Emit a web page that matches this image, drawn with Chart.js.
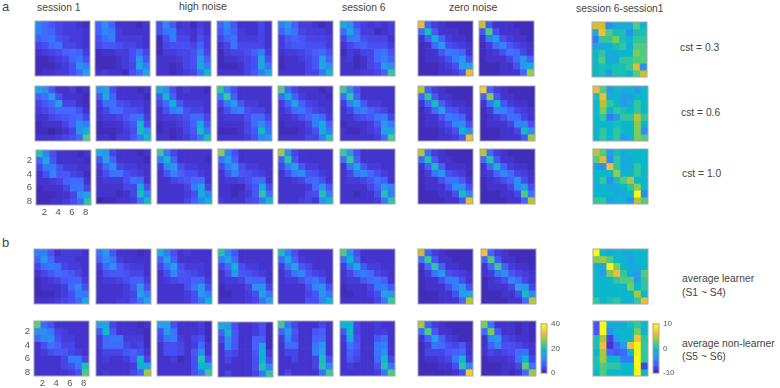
<!DOCTYPE html>
<html>
<head>
<meta charset="utf-8">
<script src="https://cdn.jsdelivr.net/npm/chart.js@4"></script>
<style>
html,body{margin:0;padding:0;background:#fff;}
#page{position:relative;width:780px;height:388px;overflow:hidden;font-family:"Liberation Sans",Arial,sans-serif;color:#444;}
#page canvas{position:absolute;filter:blur(0.3px);}
.lbl{position:absolute;white-space:nowrap;line-height:1;transform:translateY(-50%);}
</style>
</head>
<body>
<div id="page"></div>
<script>
// parula colormap
const parula = [[62,38,168],[69,55,213],[72,77,240],[69,99,253],[50,124,252],[43,145,239],[32,165,227],[8,181,208],[25,191,182],[55,200,151],[100,205,111],[157,201,67],[209,191,39],[248,186,61],[250,214,45],[246,239,32],[249,251,21]];

const gridLabels = ["1","2","3","4","5","6","7","8"];

// a: cst = 0.3
const a1_s1 = [[12,9,7,5,4,4,3,2],[11,9,8,5,4,4,4,3],[8,9,10,6,5,4,4,3],[5,6,9,10,5,5,4,3],[3,4,5,6,8,9,8,4],[2,2,3,4,5,8,10,6],[2,2,2,3,4,6,13,11],[2,3,3,4,4,6,9,15]];
const a1_s2 = [[8,13,8,3,3,3,2,3],[8,12,11,4,3,3,3,3],[6,9,11,4,4,4,4,3],[5,7,7,6,5,5,4,3],[2,3,3,4,4,6,9,5],[2,2,2,3,4,6,14,7],[2,2,2,3,4,5,16,11],[3,4,3,3,2,6,9,16]];
const a1_s3 = [[6,12,7,3,4,2,4,3],[6,10,11,4,4,3,5,3],[2,6,11,5,5,3,6,4],[2,5,6,6,6,5,8,4],[2,4,4,5,5,6,11,5],[3,3,3,4,5,6,14,8],[3,3,2,3,5,6,17,11],[3,3,2,3,4,5,10,19]];
const a1_s4 = [[8,12,7,3,3,3,5,3],[7,11,8,4,3,3,5,3],[5,8,10,4,4,4,5,3],[3,5,10,5,5,5,5,3],[2,4,5,5,6,8,11,4],[2,3,3,4,5,6,15,6],[2,2,2,3,5,6,16,10],[3,3,3,3,5,7,11,16]];
const a1_s5 = [[11,14,8,4,4,3,2,3],[8,12,10,5,4,4,4,3],[4,7,8,7,5,5,5,4],[4,6,7,7,6,6,6,4],[3,4,4,5,6,8,9,6],[2,3,3,4,5,7,15,8],[2,3,3,3,5,7,15,13],[3,3,3,3,5,5,10,19]];
const a1_s6 = [[17,13,6,4,3,4,3,4],[9,16,9,4,4,2,3,4],[5,10,11,6,5,5,5,3],[3,5,7,8,6,6,6,4],[2,4,3,5,5,9,10,6],[3,4,2,3,5,9,11,8],[3,3,2,3,5,6,14,13],[3,3,3,4,4,5,8,23]];
const a1_z1 = [[32,8,4,3,2,2,2,2],[9,20,7,3,3,3,2,2],[3,8,18,8,4,3,3,2],[2,3,9,14,6,5,4,3],[2,3,3,7,11,10,8,3],[2,3,3,4,6,11,14,6],[2,2,2,3,4,6,15,15],[2,2,2,3,3,4,7,32]];
const a1_z2 = [[30,7,3,3,3,2,2,2],[7,24,6,3,3,3,2,2],[3,11,15,6,4,3,3,2],[2,4,9,12,7,5,4,3],[2,3,4,6,10,9,5,3],[2,3,3,3,5,9,14,8],[2,2,2,3,3,6,14,16],[2,2,2,3,3,3,8,28]];
const a1_diff = [[5.2,5.2,-4,-2,-2,-2,2,-1],[-2,6.3,2,0,0,-4,0,0],[-5,1,1,3,0,-1,1,1],[-3,-2,-2,0,1,-2,2,2],[-1,1,-2,-2,-1,-1,3,2],[-1,2,-2,-2,1,1,2,2],[-1,0,-1,0,0,1,5.4,-4],[-1,0,-3,0,0,-1,2,4.8]];

// a: cst = 0.6
const a2_s1 = [[16,13,7,3,3,4,2,3],[8,10,15,6,3,3,3,2],[5,7,9,15,5,5,3,2],[4,5,7,9,9,9,6,3],[3,3,5,6,7,8,9,5],[2,3,3,3,5,8,13,11],[2,2,1,2,3,5,13,17],[3,3,3,4,5,6,9,24]];
const a2_s2 = [[13,15,6,3,3,3,2,3],[7,17,8,3,3,3,3,2],[4,9,10,6,5,4,4,3],[3,5,9,9,6,6,5,3],[3,4,4,5,7,9,10,4],[2,3,3,3,5,7,19,6],[2,2,2,3,4,6,20,14],[3,3,2,4,4,7,11,19]];
const a2_s3 = [[17,13,6,3,4,3,3,2],[7,19,8,3,3,3,3,3],[5,9,17,7,4,4,4,3],[3,6,11,13,6,5,5,3],[3,4,4,5,6,9,9,5],[2,3,3,4,5,8,17,7],[2,3,2,3,5,7,20,11],[3,3,2,3,4,6,10,20]];
const a2_s4 = [[22,12,6,3,3,3,3,3],[11,23,8,3,3,3,3,3],[5,11,14,7,4,4,3,3],[3,6,10,12,6,5,5,3],[3,4,4,4,6,9,9,5],[3,3,3,3,5,9,13,8],[2,2,2,3,5,7,19,10],[3,3,3,3,4,6,12,14]];
const a2_s5 = [[24,9,5,3,3,3,2,3],[9,18,8,4,3,3,3,2],[4,8,15,8,5,4,3,3],[3,5,9,11,7,5,4,3],[3,3,4,6,8,11,9,4],[2,3,3,3,5,11,17,8],[2,2,2,3,4,6,17,11],[3,3,3,3,5,5,11,21]];
const a2_s6 = [[23,13,6,3,3,3,3,3],[9,22,8,3,3,3,3,3],[4,11,15,7,4,4,3,3],[3,5,10,11,8,6,5,3],[3,3,5,6,7,10,11,5],[2,3,3,3,4,7,14,11],[3,2,2,3,4,5,15,16],[3,3,3,3,3,4,9,24]];
const a2_z1 = [[29,8,4,3,2,2,2,2],[8,22,7,3,3,2,2,2],[3,9,20,8,4,3,3,2],[2,4,9,15,7,6,4,3],[2,3,3,6,11,10,8,3],[2,3,3,4,6,12,13,6],[2,2,2,3,4,6,18,13],[2,2,2,3,3,4,7,32]];
const a2_z2 = [[34,8,4,3,2,2,2,2],[8,27,7,3,3,2,2,2],[3,10,19,7,4,3,3,2],[2,4,12,12,8,5,4,3],[2,3,4,6,10,9,5,3],[2,3,3,3,5,12,12,6],[2,2,2,3,3,5,19,13],[2,2,2,3,3,3,7,28]];
const a2_diff = [[6,2,-3,-1,-2,-1,-3,-1],[0,6,-2,-1,-3,-3,-1,-1],[-1,4.5,1,-1,-3,-2,1,-1],[-1,3,-1,1,0,-1,1,-1],[-1,1,-5,-3,1,1,4.5,1],[-1,-1,-1,0,-1,-1,3.5,-1],[-1,1,-1,1,-1,-1,3,-4],[-1,1,-1,1,-3,-2,3,2]];

// a: cst = 1.0
const a3_s1 = [[21,12,6,3,3,3,2,3],[8,16,7,3,3,3,3,2],[5,10,11,6,4,4,3,3],[3,6,12,7,7,5,4,2],[3,3,4,5,8,9,9,3],[2,3,3,3,5,10,10,5],[2,2,2,3,3,5,13,15],[2,2,3,3,4,6,9,22]];
const a3_s2 = [[16,14,5,3,3,3,2,3],[7,15,8,3,3,3,3,2],[4,9,13,5,4,4,3,3],[3,6,10,10,6,5,4,3],[3,4,4,4,6,10,9,3],[3,3,3,3,5,5,17,6],[3,3,3,2,3,5,20,12],[1,2,2,3,3,4,10,19]];
const a3_s3 = [[23,10,5,3,3,3,3,3],[11,19,8,3,3,3,3,2],[4,12,14,6,4,4,3,3],[3,7,12,8,6,6,4,3],[3,3,5,6,7,9,9,3],[3,3,3,3,5,11,15,5],[3,3,3,3,4,6,17,12],[3,3,3,3,5,8,12,18]];
const a3_s4 = [[27,12,6,3,3,3,3,3],[10,15,8,3,3,3,3,3],[5,11,14,6,4,4,3,3],[3,7,12,7,6,5,4,3],[3,4,4,5,6,9,9,3],[3,3,2,2,5,7,17,6],[3,3,2,3,4,7,22,10],[4,3,3,3,5,6,11,19]];
const a3_s5 = [[28,13,5,3,3,3,3,3],[8,22,7,3,3,3,3,3],[5,11,15,7,4,4,3,3],[3,6,11,13,7,6,4,3],[3,3,4,5,8,9,6,3],[3,3,3,3,4,9,14,7],[3,3,3,3,5,6,21,11],[3,3,3,4,5,3,13,19]];
const a3_s6 = [[23,14,6,3,3,3,3,3],[9,23,8,3,3,3,3,3],[3,10,16,7,4,4,3,3],[3,5,11,12,9,6,4,3],[3,4,4,5,7,10,8,3],[3,3,3,3,5,8,14,12],[3,3,2,3,3,6,21,11],[3,3,3,3,3,4,10,22]];
const a3_z1 = [[29,9,4,3,2,2,2,2],[9,21,7,3,3,2,2,2],[3,8,20,8,3,3,3,2],[2,4,10,14,6,5,4,2],[2,3,3,6,10,10,7,3],[2,3,3,3,6,13,13,6],[2,2,2,3,3,6,20,12],[2,2,2,2,3,3,7,32]];
const a3_z2 = [[29,9,4,3,2,2,2,2],[9,22,7,3,3,2,2,2],[3,9,19,8,4,3,3,2],[3,4,9,12,9,5,4,3],[2,3,4,6,8,13,6,3],[2,3,3,3,5,12,15,6],[2,2,2,3,3,5,24,10],[2,2,2,2,3,3,8,29]];
const a3_diff = [[4.4,2,-3,0,-2,-1,-1,-1],[2,5.4,-4,1,-2,-2,-1,-1],[-3,-4,6,1,-2,-2,1,-1],[-1,-1,-1,3.5,-1,-1,1,-1],[-1,1,-4,0,2,4.5,-1,-1],[-2,-1,-2,-2,-1,1,3.5,-1],[-1,-1,-1,-2,-2,-1,10,-4],[1,1,-3,-1,-2,-4,4.5,2]];

// b: average learner
const b1_s1 = [[11,11,7,3,4,4,4,3],[8,14,9,4,4,4,3,3],[5,9,11,10,5,4,4,3],[3,5,7,9,8,7,5,3],[2,3,4,5,7,8,8,4],[2,3,3,3,4,9,12,6],[2,2,2,3,4,6,11,10],[3,3,3,4,5,6,9,16]];
const b1_s2 = [[10,14,7,3,3,3,2,3],[8,13,10,4,3,3,3,3],[4,9,13,7,5,4,4,3],[3,6,7,7,6,5,5,3],[3,4,4,5,6,8,8,4],[3,3,3,3,4,7,14,6],[3,3,3,3,4,5,15,11],[3,3,3,4,4,6,10,15]];
const b1_s3 = [[17,11,6,3,4,3,3,3],[8,15,8,3,3,3,3,3],[5,10,15,6,4,4,4,3],[3,6,12,7,6,5,4,3],[3,4,5,6,6,8,8,4],[3,3,3,3,6,10,14,6],[3,3,3,3,4,6,14,11],[3,3,3,3,4,6,10,18]];
const b1_s4 = [[21,12,7,3,3,3,3,3],[11,15,9,3,3,3,3,3],[5,9,18,6,4,4,3,3],[3,6,14,7,6,5,4,3],[3,4,4,5,9,8,8,3],[2,3,3,3,5,13,13,5],[2,2,3,3,4,6,16,10],[3,3,3,3,4,5,10,15]];
const b1_s5 = [[20,11,6,3,3,3,3,3],[9,16,8,4,3,3,3,3],[4,10,16,7,5,3,3,3],[3,5,10,12,7,5,4,3],[3,4,4,6,9,10,7,3],[3,3,3,3,6,12,13,6],[3,3,3,3,5,7,14,10],[3,3,3,3,6,6,12,18]];
const b1_s6 = [[24,13,6,3,3,3,3,3],[9,18,8,3,3,3,3,3],[4,10,18,7,4,4,3,3],[3,5,9,11,9,5,4,3],[3,4,4,7,9,10,8,3],[2,3,3,3,5,10,11,7],[2,2,3,3,4,6,15,14],[3,3,3,3,3,5,10,23]];
const b1_z1 = [[30,8,4,3,2,2,2,2],[10,23,7,3,3,2,2,2],[3,9,22,8,3,3,2,2],[2,4,10,14,6,5,4,3],[2,3,3,6,11,11,6,3],[2,3,3,3,6,11,14,6],[2,2,2,3,3,6,15,16],[2,2,2,3,3,3,8,29]];
const b1_z2 = [[33,8,4,3,2,2,2,2],[8,24,7,3,3,2,2,2],[3,9,23,8,4,3,3,2],[3,4,10,13,7,5,4,3],[2,3,4,6,12,9,5,3],[2,3,3,3,5,15,14,5],[2,2,2,3,3,6,20,12],[2,2,2,2,3,3,9,29]];
const b1_diff = [[10,-1,-2,-1,-2,-2,-1,-1],[3,4,2,-1,-1,-3,-1,-1],[-2,-2,9,3,-1,-2,-2,-1],[-1,-3,3,6,1,-2,-3,2],[-1,-1,-1,1,2,2,-3,1],[-1,-1,-1,-1,-1,3,-1,1],[-1,-1,-1,-1,-1,-1,4,-1],[1,-1,0,1,-1,-2,1,6]];

// b: average non-learner
const b2_s1 = [[25,9,6,3,3,3,3,3],[13,13,11,5,4,3,3,3],[9,12,13,6,4,4,3,3],[3,6,10,8,5,5,3,3],[3,4,6,7,7,5,4,3],[3,3,3,3,5,11,11,5],[3,3,3,3,5,6,10,21],[3,3,3,3,3,4,6,24]];
const b2_s2 = [[15,15,5,3,3,3,2,3],[7,19,7,3,3,3,3,2],[4,9,10,10,4,4,4,2],[4,9,9,9,5,4,5,2],[3,5,5,5,7,8,6,3],[3,4,3,3,4,7,19,5],[3,3,3,3,3,4,17,16],[3,4,3,3,3,5,8,28]];
const b2_s3 = [[15,15,6,3,3,3,4,2],[6,14,10,3,3,3,4,2],[5,10,11,4,3,5,6,2],[3,6,6,5,3,4,9,3],[3,6,6,5,3,7,13,3],[3,3,4,2,3,6,21,6],[3,3,3,3,3,6,18,16],[3,3,3,3,3,6,10,23]];
const b2_s4 = [[17,14,6,3,3,4,6,2],[8,19,7,3,3,4,6,2],[5,13,7,3,3,8,8,2],[3,12,7,3,3,8,15,2],[3,6,5,3,3,7,18,4],[3,5,3,3,3,6,18,6],[3,3,3,3,3,6,21,12],[3,5,3,3,3,5,10,22]];
const b2_s5 = [[23,10,5,3,3,3,5,3],[8,14,7,3,3,7,8,3],[4,12,6,3,3,8,9,3],[3,9,9,3,3,10,14,3],[3,5,5,3,3,11,15,3],[3,3,5,3,3,5,20,6],[3,3,3,3,3,5,21,12],[3,5,3,3,3,3,10,23]];
const b2_s6 = [[18,18,5,3,3,4,3,3],[7,19,5,3,3,4,4,3],[4,16,6,3,3,7,9,3],[3,10,7,3,3,10,11,3],[3,8,6,3,3,10,13,3],[3,7,5,3,3,9,19,5],[3,4,3,3,3,6,21,10],[3,3,3,3,3,4,10,24]];
const b2_z1 = [[28.5,8,4,3,2,2,2,2],[9,24,7,3,3,2,2,2],[3,8,15,8,4,3,2,2],[2,4,10,9,6,5,7,3],[2,5,5,5,7,8,9,3],[2,3,3,4,5,11,19,4],[2,2,2,3,3,6,22,12],[2,2,2,2,2,3,6,34]];
const b2_z2 = [[26,10,3,3,3,2,3,2],[9,26,7,3,3,2,3,2],[3,13,14,5,4,3,3,2],[3,8,12,6,6,5,4,3],[3,5,4,5,6,9,10,3],[2,3,3,3,4,10,17,5],[2,2,2,3,3,5,25,10],[2,2,2,3,2,3,9,28]];
const b2_diff = [[-7,10,-2,-2,-2,0,1,-1],[-7,10,-4,-1,-1,-1,3,-1],[0,4,-8,-3,-1,-1,6.5,1],[0,6,-9,-6,-3,6,9,1],[-1,4,-6,-7,-6,-1,9,1],[0,4,-1,-1,-5,-5,10,1],[0,2,1,1,-1,-1,10,-8],[-1,2,-1,-1,-1,-1,10,-1]];

const panels = [
  [a1_s1,a1_s2,a1_s3,a1_s4,a1_s5,a1_s6,a1_z1,a1_z2,a1_diff],
  [a2_s1,a2_s2,a2_s3,a2_s4,a2_s5,a2_s6,a2_z1,a2_z2,a2_diff],
  [a3_s1,a3_s2,a3_s3,a3_s4,a3_s5,a3_s6,a3_z1,a3_z2,a3_diff],
  [b1_s1,b1_s2,b1_s3,b1_s4,b1_s5,b1_s6,b1_z1,b1_z2,b1_diff],
  [b2_s1,b2_s2,b2_s3,b2_s4,b2_s5,b2_s6,b2_z1,b2_z2,b2_diff]
];

const sessionRange = [1, 40]; // cells read a little high against the bar, so start above 0
const barRange = [0, 40];
const diffRange = [-10, 10];
const sessionBarTicks = [0, 20, 40];
const diffBarTicks = [-10, 0, 10];
const axisTicks = [2, 4, 6, 8];

// where the panels sit
const panelSize = 55;
const rowX = [
  [35.3,95,155.7,217,278.3,340,418.3,479.3,592.3],
  [35,95.5,156,217,278,340,417.7,479.5,593],
  [36,96,157,217.7,278,340,418,479.5,593],
  [34.3,95.5,157,218,278,340,418,481,592.7],
  [34.3,95.5,157,218,278.3,340,418,481,592.7]
];
const rowY = [
  [21,21,21,21,21,21,21,21,21.5],
  [85.5,85.5,85.5,85.5,85.5,85.5,85.5,85.5,85.5],
  [150,149,149,149,148.7,149,149,149,148.5],
  [249.3,249.3,249.3,249.3,249.3,249.3,249.3,249.3,249.3],
  [320.7,320.7,320.7,321.5,321,320.7,320.7,320.7,320.7]
];

const texts = [
  ["a",2,6,13],["session 1",37,8,10.3],["high noise",179,6,10.5],["session 6",342,8,10.3],
  ["zero noise",449,7,10.5],["session 6-session1",576,8.5,10.3],
  ["cst = 0.3",680,48,10.3],["cst = 0.6",681,113,10.3],["cst = 1.0",682,174,10.3],
  ["b",2,242,13],
  ["average learner",682,279,10.3],["(S1 ~ S4)",682,292.7,10.3],
  ["average non-learner",682,344,10.3],["(S5 ~ S6)",682,357,10.3]
];

const page = document.getElementById("page");

function toColor(v, range) {
  const t = Math.min(1, Math.max(0, (v - range[0]) / (range[1] - range[0])));
  const p = t * (parula.length - 1);
  const i = Math.min(parula.length - 2, Math.floor(p));
  const f = p - i;
  const c = parula[i].map((a, k) => Math.round(a + (parula[i + 1][k] - a) * f));
  return "rgb(" + c.join(",") + ")";
}

const frame = {
  id: "frame",
  afterDraw(chart) {
    const a = chart.chartArea, ctx = chart.ctx;
    ctx.save();
    ctx.strokeStyle = "#a6a6a6";
    ctx.lineWidth = 1;
    ctx.strokeRect(a.left, a.top, a.right - a.left, a.bottom - a.top);
    ctx.restore();
  }
};

function addCanvas(x, y, w, h, m) {
  const c = document.createElement("canvas");
  const left = x - m.left, top = y - m.top;
  c.width = Math.ceil(w) + m.left + m.right;
  c.height = h + m.top + m.bottom;
  c.style.left = left + "px";
  c.style.top = top + "px";
  c.style.width = c.width + "px";
  c.style.height = c.height + "px";
  page.appendChild(c);
  return c;
}

function heatmap(cells, x, y, range, withTicks) {
  const m = withTicks ? {left:24,right:8,top:10,bottom:14} : {left:2,right:2,top:2,bottom:2};
  const c = addCanvas(x, y, panelSize, panelSize, m);
  new Chart(c, {
    type: "bar",
    data: {
      labels: gridLabels,
      datasets: cells.map(row => ({
        data: row.map(() => 1),
        backgroundColor: row.map(v => toColor(v, range)),
        borderWidth: 0,
        barPercentage: 1,
        categoryPercentage: 1
      }))
    },
    options: {
      responsive: false,
      animation: false,
      events: [],
      layout: {autoPadding: false, padding: withTicks ? {top:m.top,right:m.right} : m},
      plugins: {legend:{display:false}, tooltip:{enabled:false}},
      scales: {
        x: {
          stacked: true,
          display: withTicks,
          grid: {display:false, drawTicks:false},
          border: {display:false},
          afterFit: s => { if (withTicks) s.height = m.bottom; },
          ticks: {
            autoSkip: false, maxRotation: 0, padding: 2, labelOffset: -2, color: "#555",
            font: {family:"Liberation Sans", size:9.5},
            callback: (v, i) => axisTicks.includes(i + 1) ? gridLabels[i] : ""
          }
        },
        y: {
          stacked: true,
          display: withTicks,
          reverse: true,
          min: 0,
          max: 8,
          grid: {display:false, drawTicks:false},
          border: {display:false},
          afterFit: s => { if (withTicks) s.width = m.left; },
          afterBuildTicks: s => { s.ticks = axisTicks.map(t => ({value: t - 0.5})); },
          ticks: {
            padding: 4, color: "#555",
            font: {family:"Liberation Sans", size:9.5},
            callback: v => String(v + 0.5)
          }
        }
      }
    },
    plugins: [frame]
  });
}

function colorbar(x, y, w, h, range, tickVals) {
  const m = {left:1,right:22,top:6,bottom:6};
  const c = addCanvas(x, y, w, h, m);
  const steps = [];
  for (let i = 0; i < 64; i++) steps.push(i);
  const span = range[1] - range[0];
  new Chart(c, {
    type: "bar",
    data: {
      labels: ["c"],
      datasets: steps.map(i => {
        const lo = range[0] + span * i / 64, hi = range[0] + span * (i + 1) / 64;
        return {
          data: [[lo, hi]],
          backgroundColor: toColor((lo + hi) / 2, range),
          borderWidth: 0,
          barPercentage: 1,
          categoryPercentage: 1,
          grouped: false
        };
      })
    },
    options: {
      responsive: false,
      animation: false,
      events: [],
      layout: {autoPadding: false, padding: {left:m.left, top:m.top, bottom:m.bottom}},
      plugins: {legend:{display:false}, tooltip:{enabled:false}},
      scales: {
        x: {display:false},
        y: {
          position: "right",
          min: range[0],
          max: range[1],
          grid: {display:false, drawTicks:false},
          border: {display:false},
          afterFit: s => { s.width = m.right; },
          afterBuildTicks: s => { s.ticks = tickVals.map(t => ({value: t})); },
          ticks: {padding: 4, color:"#555", font:{family:"Liberation Sans", size:8}}
        }
      }
    },
    plugins: [frame]
  });
}

panels.forEach((row, r) => {
  row.forEach((cells, k) => {
    const range = k === 8 ? diffRange : sessionRange;
    const withTicks = k === 0 && (r === 2 || r === 4);
    heatmap(cells, rowX[r][k], rowY[r][k], range, withTicks);
  });
});

colorbar(541, 321, 5.5, 55, barRange, sessionBarTicks);
colorbar(652.7, 321, 5.5, 55, diffRange, diffBarTicks);

texts.forEach(t => {
  const d = document.createElement("div");
  d.className = "lbl";
  d.textContent = t[0];
  d.style.left = t[1] + "px";
  d.style.top = t[2] + "px";
  d.style.fontSize = t[3] + "px";
  page.appendChild(d);
});
</script>
</body>
</html>
